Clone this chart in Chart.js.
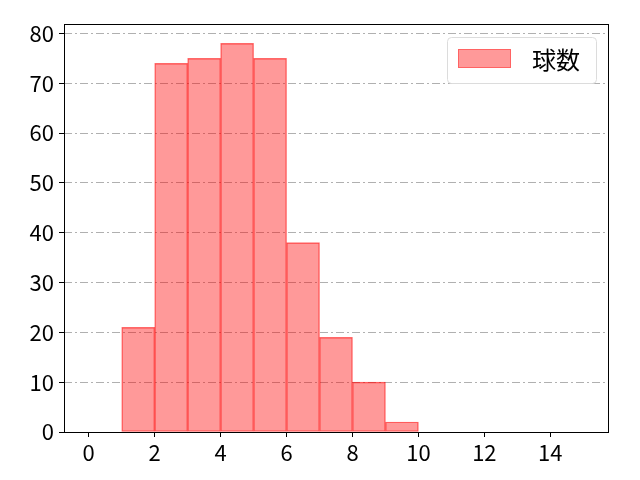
<!DOCTYPE html>
<html>
<head>
<meta charset="utf-8">
<script src="https://cdn.jsdelivr.net/npm/chart.js@4"></script>
<style>
  html, body { margin: 0; padding: 0; background: #fff; }
  #wrap { width: 640px; height: 480px; }
</style>
</head>
<body>
<div id="wrap"><canvas id="myChart" width="640" height="480"></canvas></div>
<script>
// histogram bins (left edge) and counts
var binStarts = [1, 2, 3, 4, 5, 6, 7, 8, 9];
var counts = [21, 74, 75, 78, 75, 38, 19, 10, 2];
var seriesLabel = '球数';
var xTicks = [0, 2, 4, 6, 8, 10, 12, 14];
var yTicks = [0, 10, 20, 30, 40, 50, 60, 70, 80];

var FONT = "'Noto Sans CJK JP', 'DejaVu Sans', sans-serif";

var points = binStarts.map(function (b, i) { return { x: b + 0.5, y: counts[i] }; });

// frame + legend drawn inside the plot area
var framePlugin = {
  id: 'frame',
  afterDraw: function (chart) {
    var c = chart.ctx, a = chart.chartArea;
    c.save();
    c.strokeStyle = '#000';
    c.lineWidth = 1;
    c.strokeRect(a.left + 0.5, a.top + 0.5, a.right - a.left, a.bottom - a.top);

    // legend box
    var lx = 447, ly = 37, lw = 149, lh = 46;
    c.fillStyle = 'rgba(255,255,255,0.8)';
    c.strokeStyle = '#dcdcdc';
    c.beginPath();
    c.roundRect(lx + 0.5, ly + 0.5, lw, lh, 4);
    c.fill();
    c.stroke();
    var ds = chart.data.datasets[0];
    c.fillStyle = ds.backgroundColor;
    c.fillRect(458, 49, 53, 19);
    c.strokeStyle = 'rgba(255,0,0,0.35)';
    c.strokeRect(458.5, 49.5, 52, 18);
    c.fillStyle = '#000';
    c.font = '24px ' + FONT;
    c.textBaseline = 'middle';
    c.fillText(ds.label, 532, 60);
    c.restore();
  }
};

var ctx = document.getElementById('myChart').getContext('2d');
var myChart = new Chart(ctx, {
  type: 'bar',
  data: {
    datasets: [{
      label: seriesLabel,
      data: points,
      backgroundColor: 'rgba(255,0,0,0.4)',
      borderColor: 'rgba(255,0,0,0.55)',
      borderWidth: 0.7,
      barPercentage: 1,
      categoryPercentage: 1,
      borderSkipped: false
    }]
  },
  options: {
    responsive: false,
    animation: false,
    layout: { padding: { top: 24, right: 32, left: 0, bottom: 0 } },
    plugins: { legend: { display: false }, tooltip: { enabled: false } },
    scales: {
      x: {
        type: 'linear',
        offset: false,
        min: -0.75,
        max: 15.75,
        afterBuildTicks: function (scale) {
          scale.ticks = xTicks.map(function (v) { return { value: v }; });
        },
        afterFit: function (scale) { scale.height = 48; },
        grid: { display: true, drawOnChartArea: false, drawTicks: true, tickLength: 5, tickColor: '#000', offset: false },
        border: { display: false },
        ticks: { color: '#000', font: { family: FONT, size: 22 }, padding: 2, maxRotation: 0, autoSkip: false }
      },
      y: {
        min: 0,
        max: 81.9,
        afterBuildTicks: function (scale) {
          scale.ticks = yTicks.map(function (v) { return { value: v }; });
        },
        afterFit: function (scale) { scale.width = 64; },
        grid: {
          color: '#b0b0b0',
          lineWidth: 1,
          drawTicks: true,
          tickLength: 5,
          tickColor: '#000',
          tickBorderDash: []
        },
        border: { display: false, dash: [8, 3, 2, 3] },
        ticks: { color: '#000', font: { family: FONT, size: 22 }, padding: 5 }
      }
    }
  },
  plugins: [framePlugin]
});
</script>
</body>
</html>
